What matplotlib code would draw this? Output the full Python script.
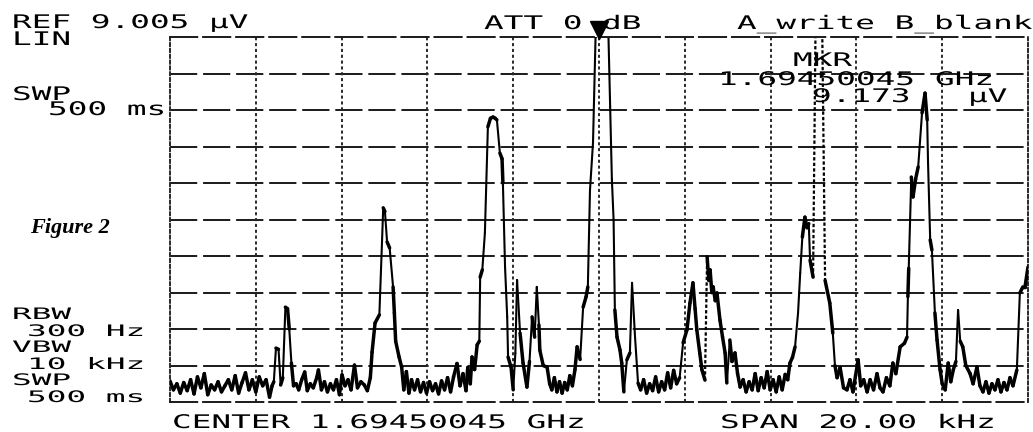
import matplotlib
matplotlib.use("Agg")
import matplotlib.pyplot as plt
from matplotlib import patheffects, transforms
from matplotlib.collections import LineCollection
import numpy as np

# ---------------- data ----------------
ref_level_uv = 9.005          # top of screen, linear scale
span_khz = 20.0
n_div = 10
marker_freq_khz = 0.0         # marker at centre frequency
marker_uv = 9.173

freq_khz = [
    -10.00, -9.92, -9.84, -9.76, -9.68, -9.60, -9.52, -9.44, -9.36, -9.28,
    -9.20, -9.12, -9.04, -8.96, -8.88, -8.80, -8.72, -8.64, -8.56, -8.48,
    -8.40, -8.32, -8.24, -8.16, -8.08, -8.00, -7.92, -7.84, -7.76, -7.68,
    -7.62, -7.58, -7.53, -7.47, -7.42, -7.37, -7.31, -7.26, -7.22, -7.17,
    -7.12, -7.06, -7.00, -6.93, -6.86, -6.80, -6.73, -6.66, -6.58, -6.54,
    -6.47, -6.40, -6.33, -6.26, -6.19, -6.12, -6.05, -5.99, -5.92, -5.85,
    -5.78, -5.70, -5.63, -5.55, -5.47, -5.40, -5.33, -5.29, -5.22, -5.12,
    -5.07, -5.03, -4.99, -4.94, -4.88, -4.80, -4.77, -4.74, -4.66, -4.60,
    -4.55, -4.49, -4.43, -4.37, -4.30, -4.23, -4.16, -4.09, -4.02, -3.95,
    -3.88, -3.81, -3.74, -3.67, -3.60, -3.53, -3.46, -3.39, -3.31, -3.24,
    -3.17, -3.10, -3.06, -3.00, -2.96, -2.90, -2.84, -2.79, -2.77, -2.72,
    -2.66, -2.59, -2.53, -2.47, -2.42, -2.38, -2.31, -2.26, -2.24, -2.19,
    -2.14, -2.12, -2.05, -2.00, -1.95, -1.91, -1.84, -1.77, -1.68, -1.62,
    -1.56, -1.50, -1.45, -1.40, -1.38, -1.30, -1.21, -1.15, -1.10, -1.04,
    -0.98, -0.92, -0.86, -0.80, -0.74, -0.68, -0.62, -0.56, -0.51, -0.44,
    -0.37, -0.30, -0.26, -0.21, -0.14, -0.08, -0.03, 0.00, 0.08, 0.16,
    0.22, 0.26, 0.30, 0.34, 0.37, 0.42, 0.49, 0.53, 0.58, 0.65,
    0.72, 0.77, 0.84, 0.91, 0.97, 1.04, 1.11, 1.18, 1.25, 1.32,
    1.39, 1.46, 1.53, 1.60, 1.67, 1.74, 1.81, 1.88, 1.96, 2.05,
    2.12, 2.19, 2.24, 2.28, 2.35, 2.40, 2.47, 2.52, 2.56, 2.59,
    2.63, 2.66, 2.71, 2.75, 2.82, 2.88, 2.94, 2.98, 3.05, 3.10,
    3.17, 3.23, 3.29, 3.36, 3.43, 3.50, 3.57, 3.64, 3.71, 3.78,
    3.85, 3.92, 3.99, 4.06, 4.13, 4.20, 4.27, 4.34, 4.40, 4.45,
    4.51, 4.57, 4.64, 4.69, 4.74, 4.80, 4.85, 4.89, 4.92, 4.99,
    5.05, 5.20, 5.27, 5.38, 5.45, 5.50, 5.55, 5.62, 5.70, 5.78,
    5.85, 5.92, 5.98, 6.04, 6.10, 6.17, 6.25, 6.32, 6.40, 6.48,
    6.55, 6.62, 6.70, 6.78, 6.85, 6.92, 7.02, 7.12, 7.18, 7.20,
    7.22, 7.28, 7.32, 7.38, 7.44, 7.53, 7.60, 7.65, 7.67, 7.72,
    7.76, 7.83, 7.88, 7.95, 8.00, 8.07, 8.14, 8.20, 8.26, 8.32,
    8.37, 8.42, 8.48, 8.55, 8.65, 8.72, 8.81, 8.88, 8.95, 9.02,
    9.09, 9.16, 9.23, 9.30, 9.37, 9.44, 9.51, 9.58, 9.65, 9.74,
    9.81, 9.88, 9.93, 10.00,
]

amp_uv = [
    0.52, 0.30, 0.45, 0.22, 0.48, 0.28, 0.55, 0.20, 0.62, 0.35,
    0.70, 0.18, 0.42, 0.30, 0.50, 0.25, 0.40, 0.55, 0.30, 0.65,
    0.22, 0.48, 0.72, 0.30, 0.55, 0.25, 0.62, 0.40, 0.55, 0.12,
    0.40, 0.50, 1.33, 1.30, 0.42, 0.60, 2.34, 2.30, 1.80, 0.96,
    0.40, 0.45, 0.30, 0.55, 0.74, 0.28, 0.45, 0.35, 0.60, 0.79,
    0.30, 0.50, 0.25, 0.45, 0.30, 0.55, 0.18, 0.67, 0.40, 0.55,
    0.30, 0.91, 0.35, 0.50, 0.42, 0.28, 0.60, 1.23, 1.95, 2.15,
    3.60, 4.79, 4.70, 3.95, 3.80, 2.84, 2.20, 1.50, 1.11, 0.86,
    0.30, 0.75, 0.22, 0.55, 0.30, 0.55, 0.25, 0.48, 0.22, 0.50,
    0.28, 0.45, 0.20, 0.52, 0.30, 0.60, 0.25, 0.62, 0.95, 0.40,
    0.70, 0.28, 0.85, 0.45, 1.11, 0.80, 1.41, 1.50, 3.08, 3.26,
    4.17, 6.79, 7.00, 7.03, 7.00, 6.96, 6.14, 6.00, 5.40, 3.33,
    2.10, 1.11, 0.86, 0.30, 1.20, 3.01, 1.70, 0.96, 0.37, 1.00,
    2.10, 1.60, 2.84, 1.90, 1.28, 0.90, 0.86, 0.45, 0.30, 0.60,
    0.25, 0.50, 0.22, 0.48, 0.30, 0.65, 0.40, 0.80, 1.36, 1.05,
    2.34, 2.60, 2.84, 5.23, 6.39, 9.02, 9.10, 9.173, 9.12, 9.10,
    9.05, 7.28, 5.50, 4.50, 2.27, 1.60, 1.28, 0.96, 0.25, 1.04,
    1.21, 2.94, 1.60, 0.47, 0.30, 0.55, 0.22, 0.45, 0.28, 0.62,
    0.25, 0.50, 0.30, 0.72, 0.35, 0.78, 0.45, 0.60, 1.46, 1.78,
    2.44, 2.94, 2.30, 1.78, 1.20, 0.79, 0.54, 3.58, 3.00, 3.26,
    2.70, 2.84, 2.50, 2.69, 2.02, 1.60, 1.21, 0.47, 1.53, 1.00,
    1.21, 0.70, 0.37, 0.55, 0.25, 0.50, 0.30, 0.70, 0.28, 0.60,
    0.35, 0.75, 0.30, 0.55, 0.25, 0.62, 0.30, 0.68, 0.55, 0.96,
    1.10, 1.36, 2.20, 3.18, 4.07, 4.56, 4.30, 4.40, 3.50, 3.08,
    9.50, 9.50, 3.00, 2.44, 1.70, 0.90, 0.60, 0.85, 0.35, 0.30,
    0.55, 0.25, 0.65, 1.04, 0.40, 0.55, 0.25, 0.55, 0.30, 0.70,
    0.35, 0.25, 0.60, 0.40, 0.96, 0.70, 1.36, 1.45, 1.60, 2.60,
    3.30, 5.55, 5.06, 5.50, 5.80, 7.13, 7.62, 6.96, 5.90, 4.00,
    3.75, 2.20, 1.53, 0.80, 0.45, 0.30, 0.96, 0.50, 0.80, 1.00,
    2.27, 1.50, 1.36, 0.90, 0.70, 0.45, 0.86, 0.40, 0.25, 0.50,
    0.22, 0.45, 0.30, 0.55, 0.25, 0.48, 0.30, 0.60, 0.40, 0.79,
    2.69, 2.84, 2.84, 3.33,
]

# ---------------- figure ----------------
W, H = 1033, 432
fig = plt.figure(figsize=(W / 100, H / 100), dpi=100)
fig.patch.set_facecolor("white")

ax = fig.add_axes([170 / W, 1 - 402 / H, 858 / W, 365 / H])
ax.set_xlim(-span_khz / 2, span_khz / 2)
ax.set_ylim(0, ref_level_uv)
xt = np.linspace(-span_khz / 2, span_khz / 2, n_div + 1)
yt = np.linspace(0, ref_level_uv, n_div + 1)
ax.set_xticks(xt)
ax.set_yticks(yt)
ax.tick_params(length=0, labelbottom=False, labelleft=False)

hdash = (0, (14, 3))
vdot = (0, (1.6, 1.4))
for y in yt[1:-1]:
    ax.axhline(y, color="#1a1a1a", lw=1.4, ls=hdash, zorder=1)
for x in xt[1:-1]:
    ax.axvline(x, color="#2a2a2a", lw=1.4, ls=vdot, zorder=1)
for side in ("top", "bottom"):
    ax.spines[side].set_linestyle(hdash)
    ax.spines[side].set_linewidth(1.4)
    ax.spines[side].set_color("#1a1a1a")
for side in ("left", "right"):
    ax.spines[side].set_linestyle(vdot)
    ax.spines[side].set_linewidth(1.4)
    ax.spines[side].set_color("#2a2a2a")

# trace: very fast pen strokes look dotted on the plotter copy, fast ones
# thin, slow ones solid and heavy
fx = np.asarray(freq_khz)
ay = np.asarray(amp_uv)
px_per_khz = 858 / span_khz
px_per_uv = 365 / ref_level_uv
dxp = np.diff(fx) * px_per_khz
dyp = np.abs(np.diff(ay)) * px_per_uv
steep = (dyp > 30) & (dyp > 4 * dxp)
very = steep & (dyp > 110)
pts = np.column_stack([fx, ay])
segs = np.stack([pts[:-1], pts[1:]], axis=1)

ax.add_collection(LineCollection(segs[very], colors="black", linewidths=1.6,
                                 linestyles=[(0, (1.5, 1.0))], zorder=2))
ax.add_collection(LineCollection(segs[steep & ~very], colors="black",
                                 linewidths=1.5, capstyle="round", zorder=2))
ax.add_collection(LineCollection(segs[~steep], colors="black", linewidths=2.5,
                                 capstyle="round", joinstyle="round", zorder=3))

ax.plot([marker_freq_khz], [marker_uv], marker="v", color="black",
        markersize=13, clip_on=False, zorder=4)


# ---------------- annotation text (wide dot-matrix style) ----------------
class Stretch(patheffects.AbstractPathEffect):
    """Draw glyphs stretched horizontally about the text origin."""

    def __init__(self, sx):
        super().__init__()
        self._sx = sx

    def draw_path(self, renderer, gc, tpath, affine, rgbFace=None):
        renderer.draw_path(gc, tpath,
                           transforms.Affine2D().scale(self._sx, 1.0) + affine,
                           rgbFace)


PITCH_PX = 19.7     # character pitch of the instrument font


def label(x, y, s, size=13.5):
    em_px = size * 100 / 72
    sx = PITCH_PX / (0.602 * em_px)
    fig.text(x / W, 1 - y / H, s, fontsize=size, family="DejaVu Sans Mono",
             ha="left", va="baseline", color="black",
             path_effects=[Stretch(sx)])


label(12, 28, "REF 9.005 \u00b5V")
label(12, 45, "LIN")
label(12, 100, "SWP")
label(48, 115, "500 ms")
label(484, 29, "ATT 0")
label(602, 29, "dB")
label(737, 29, "A_write B_blank")
label(793, 66, "MKR")
label(718, 85, "1.69450045")
label(935, 85, "GHz")
label(812, 102, "9.173")
label(968, 102, "\u00b5V")

STACK = 11.4
label(12, 319, "RBW", STACK)
label(27, 336, "300 Hz", STACK)
label(12, 352, "VBW", STACK)
label(27, 369, "10 kHz", STACK)
label(12, 385, "SWP", STACK)
label(27, 402, "500 ms", STACK)

label(172, 428, "CENTER 1.69450045 GHz")
label(720, 428, "SPAN 20.00 kHz")

fig.text(30 / W, 1 - 233 / H, "Figure 2", family="Liberation Serif",
         weight="bold", style="italic", fontsize=16, ha="left", va="baseline")

fig.savefig("out.png", dpi=100, facecolor="white")
